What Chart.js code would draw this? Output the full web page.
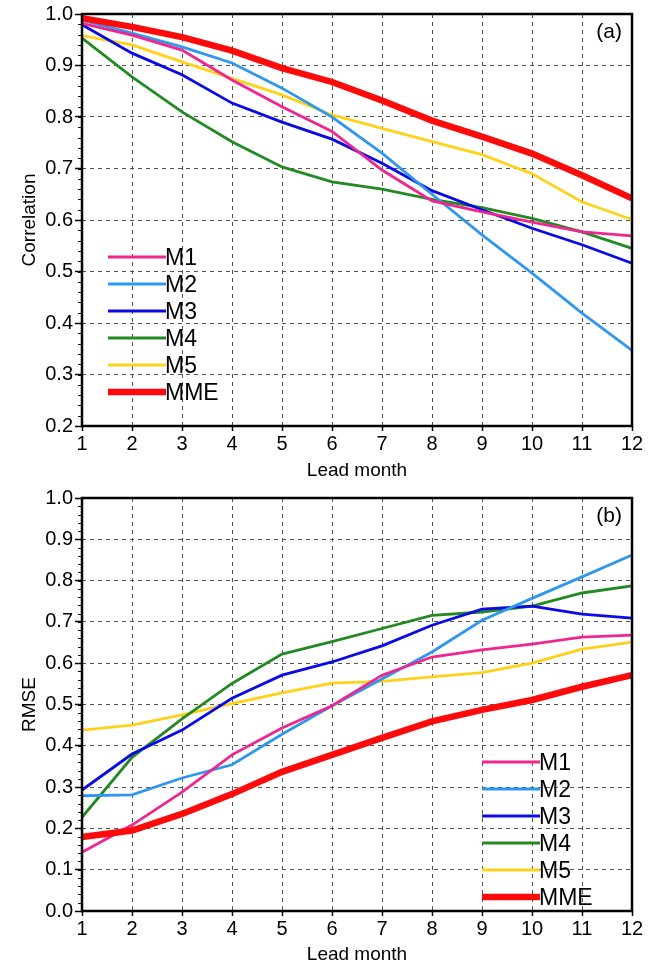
<!DOCTYPE html>
<html>
<head>
<meta charset="utf-8">
<script src="https://cdn.jsdelivr.net/npm/chart.js@4.4.1/dist/chart.umd.min.js"></script>
<style>
  body { margin: 0; background: #fff; }
  #wrap { position: relative; width: 654px; height: 966px; }
  #box-a { position: absolute; left: 0; top: 0; width: 654px; height: 484px; }
  #box-b { position: absolute; left: 0; top: 484px; width: 654px; height: 482px; }
</style>
</head>
<body>
<div id="wrap">
  <div id="box-a"><canvas id="chart-corr"></canvas></div>
  <div id="box-b"><canvas id="chart-rmse"></canvas></div>
</div>
<script>
// lead months (x axis)
var months = ['1', '2', '3', '4', '5', '6', '7', '8', '9', '10', '11', '12'];
var models = ['M1', 'M2', 'M3', 'M4', 'M5', 'MME'];

// (a) correlation
var corrM1 = [0.982, 0.959, 0.930, 0.872, 0.820, 0.772, 0.697, 0.637, 0.616, 0.596, 0.577, 0.569];
var corrM2 = [0.988, 0.963, 0.936, 0.905, 0.856, 0.800, 0.730, 0.650, 0.571, 0.497, 0.419, 0.347];
var corrM3 = [0.979, 0.924, 0.882, 0.827, 0.790, 0.757, 0.710, 0.657, 0.620, 0.584, 0.552, 0.516];
var corrM4 = [0.953, 0.878, 0.810, 0.752, 0.703, 0.674, 0.660, 0.640, 0.624, 0.603, 0.577, 0.545];
var corrM5 = [0.958, 0.940, 0.907, 0.875, 0.843, 0.804, 0.778, 0.752, 0.727, 0.690, 0.635, 0.601];
var corrMME = [0.992, 0.975, 0.955, 0.929, 0.895, 0.868, 0.832, 0.793, 0.762, 0.729, 0.687, 0.642];

// (b) RMSE
var rmseM1 = [0.142, 0.208, 0.288, 0.378, 0.443, 0.497, 0.571, 0.615, 0.632, 0.646, 0.663, 0.668];
var rmseM2 = [0.279, 0.281, 0.322, 0.354, 0.428, 0.497, 0.562, 0.627, 0.704, 0.757, 0.809, 0.862];
var rmseM3 = [0.293, 0.380, 0.438, 0.515, 0.571, 0.603, 0.642, 0.692, 0.731, 0.738, 0.719, 0.709];
var rmseM4 = [0.227, 0.372, 0.465, 0.551, 0.622, 0.652, 0.684, 0.716, 0.724, 0.738, 0.770, 0.787];
var rmseM5 = [0.438, 0.450, 0.475, 0.502, 0.528, 0.552, 0.556, 0.567, 0.577, 0.600, 0.634, 0.651];
var rmseMME = [0.179, 0.195, 0.235, 0.283, 0.337, 0.378, 0.419, 0.459, 0.487, 0.511, 0.543, 0.571];

var colors = ['#f0258f', '#2f98ee', '#0a0ae6', '#238a23', '#ffd21a', '#ff0a0a'];
var widths = [2.8, 2.8, 2.8, 2.8, 2.8, 6.5];
var FONT = '"Liberation Sans", Arial, sans-serif';

function buildDatasets(series) {
    var ds = [];
    for (var i in series) {
        ds.push({
            label: models[i],
            data: series[i],
            borderColor: colors[i],
            backgroundColor: colors[i],
            borderWidth: widths[i],
            pointRadius: 0,
            tension: 0,
            fill: false,
            order: models[i] === 'MME' ? 0 : 1
        });
    }
    return ds;
}

// box, minor ticks, panel label and the in-plot legend
var extras = {
    id: 'extras',
    afterDraw: function (chart, args, opts) {
        var ctx = chart.ctx;
        var a = chart.chartArea;
        var y = chart.scales.y;
        ctx.save();
        ctx.strokeStyle = '#000';
        ctx.lineWidth = 1;
        for (var k = 0; k <= Math.round((y.max - y.min) / 0.02); k++) {
            var py = Math.round(y.getPixelForValue(y.min + k * 0.02)) + 0.5;
            ctx.beginPath();
            ctx.moveTo(a.left - 4, py);
            ctx.lineTo(a.left, py);
            ctx.stroke();
        }
        ctx.lineWidth = 2.5;
        ctx.strokeRect(a.left, a.top, a.right - a.left, a.bottom - a.top);

        ctx.fillStyle = '#000';
        ctx.font = '21px ' + FONT;
        ctx.textAlign = 'right';
        ctx.textBaseline = 'middle';
        ctx.fillText(opts.label, a.right - 10, a.top + 18);

        ctx.font = '23px ' + FONT;
        ctx.textAlign = 'left';
        chart.data.datasets.forEach(function (ds, i) {
            var ly = opts.legendY + i * opts.legendStep;
            ctx.strokeStyle = ds.borderColor;
            ctx.lineWidth = ds.borderWidth;
            ctx.beginPath();
            ctx.moveTo(opts.legendX, ly);
            ctx.lineTo(opts.legendX + 58, ly);
            ctx.stroke();
            ctx.fillText(ds.label, opts.legendX + 57, ly + 2);
        });
        ctx.restore();
    }
};

function makeChart(id, series, yTitle, yMin, panel, legend, xHeight, titleBottom) {
    var ctx = document.getElementById(id);
    return new Chart(ctx, {
        type: 'line',
        data: { labels: months, datasets: buildDatasets(series) },
        plugins: [extras],
        options: {
            responsive: true,
            maintainAspectRatio: false,
            animation: false,
            layout: { padding: { left: 0, right: 22, top: 14, bottom: 0 } },
            plugins: {
                legend: { display: false },
                tooltip: { enabled: false },
                extras: { label: panel, legendX: legend[0], legendY: legend[1], legendStep: 27 }
            },
            scales: {
                x: {
                    grid: {
                        color: '#555', lineWidth: 1, drawTicks: true, tickLength: 5,
                        tickColor: '#000', tickWidth: 1.5, tickBorderDash: []
                    },
                    border: { display: false, dash: [4, 4] },
                    ticks: { color: '#000', font: { family: FONT, size: 20 }, padding: 1, maxRotation: 0, autoSkip: false },
                    title: { display: true, text: 'Lead month', color: '#000', font: { family: FONT, size: 19 }, padding: { top: 0, bottom: titleBottom } },
                    afterFit: function (s) { s.height = xHeight; }
                },
                y: {
                    min: yMin, max: 1.0,
                    grid: {
                        color: '#555', lineWidth: 1, drawTicks: true, tickLength: 7,
                        tickColor: '#000', tickWidth: 1.5, tickBorderDash: []
                    },
                    border: { display: false, dash: [4, 4] },
                    ticks: {
                        stepSize: 0.1, color: '#000', font: { family: FONT, size: 20 }, padding: 2,
                        callback: function (v) { return v.toFixed(1); }
                    },
                    title: { display: true, text: yTitle, color: '#000', font: { family: FONT, size: 19 }, padding: { top: 18, bottom: 0 } },
                    afterFit: function (s) { s.width = 82; }
                }
            }
        }
    });
}

makeChart('chart-corr', [corrM1, corrM2, corrM3, corrM4, corrM5, corrMME], 'Correlation', 0.2, '(a)', [108, 257], 58, 2);
makeChart('chart-rmse', [rmseM1, rmseM2, rmseM3, rmseM4, rmseM5, rmseMME], 'RMSE', 0.0, '(b)', [482, 278], 55, 0);
</script>
</body>
</html>
